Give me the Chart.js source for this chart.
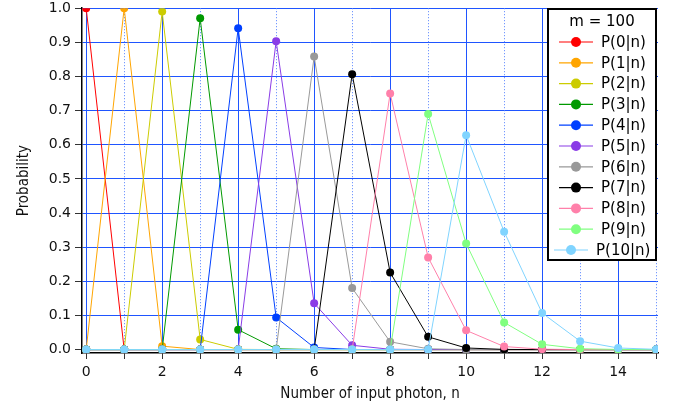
<!DOCTYPE html>
<html>
<head>
<meta charset="utf-8">
<script src="https://cdn.jsdelivr.net/npm/chart.js@4.4.1/dist/chart.umd.min.js"></script>
<style>
    html, body { margin: 0; padding: 0; background: #fff; }
</style>
</head>
<body>
<canvas id="myLineChart" width="688" height="409"></canvas>
<script>
// number of input photons n (x axis)
const photons = [0, 1, 2, 3, 4, 5, 6, 7, 8, 9, 10, 11, 12, 13, 14, 15];

// P(k|n) for m = 100, one array per k
const p0  = [1, 0, 0, 0, 0, 0, 0, 0, 0, 0, 0, 0, 0, 0, 0, 0];
const p1  = [0, 1, 0.01, 0.0001, 0, 0, 0, 0, 0, 0, 0, 0, 0, 0, 0, 0];
const p2  = [0, 0, 0.99, 0.0297, 0.0007, 0, 0, 0, 0, 0, 0, 0, 0, 0, 0, 0];
const p3  = [0, 0, 0, 0.9702, 0.0582, 0.0024, 0.0001, 0, 0, 0, 0, 0, 0, 0, 0, 0];
const p4  = [0, 0, 0, 0, 0.9411, 0.0941, 0.0061, 0.0003, 0, 0, 0, 0, 0, 0, 0, 0];
const p5  = [0, 0, 0, 0, 0, 0.9035, 0.1355, 0.0126, 0.0009, 0.0001, 0, 0, 0, 0, 0, 0];
const p6  = [0, 0, 0, 0, 0, 0, 0.8583, 0.1802, 0.0228, 0.0023, 0.0002, 0, 0, 0, 0, 0];
const p7  = [0, 0, 0, 0, 0, 0, 0, 0.8068, 0.2259, 0.0373, 0.0047, 0.0005, 0, 0, 0, 0];
const p8  = [0, 0, 0, 0, 0, 0, 0, 0, 0.7503, 0.2701, 0.0563, 0.0089, 0.0012, 0.0001, 0, 0];
const p9  = [0, 0, 0, 0, 0, 0, 0, 0, 0, 0.6903, 0.3106, 0.0797, 0.0154, 0.0025, 0.0004, 0];
const p10 = [0, 0, 0, 0, 0, 0, 0, 0, 0, 0, 0.6282, 0.3455, 0.1071, 0.0247, 0.0047, 0.0008];

const seriesValues = [p0, p1, p2, p3, p4, p5, p6, p7, p8, p9, p10];
const seriesLabels = ['P(0|n)', 'P(1|n)', 'P(2|n)', 'P(3|n)', 'P(4|n)', 'P(5|n)',
    'P(6|n)', 'P(7|n)', 'P(8|n)', 'P(9|n)', 'P(10|n)'];
const seriesColors = ['#ff0000', '#ffa500', '#cccc00', '#009900', '#0040ff', '#8a3ce6',
    '#999999', '#000000', '#ff80aa', '#80ff80', '#80d4ff'];

const xTicks = [0, 1, 2, 3, 4, 5, 6, 7, 8, 9, 10, 11, 12, 13, 14, 15];
const yTicks = [0, 0.1, 0.2, 0.3, 0.4, 0.5, 0.6, 0.7, 0.8, 0.9, 1.0];
const legendTitle = 'm = 100';

const xTickFont = { family: '"DejaVu Sans", sans-serif', size: 14, lineHeight: 1.0 };
const yTickFont = { family: '"DejaVu Sans", sans-serif', size: 14, lineHeight: 0.6 };
const titleFont = { family: '"Liberation Sans Narrow", "DejaVu Sans Condensed", "Liberation Sans", sans-serif', size: 15 };
const gridBlue = '#1f55ff';

// dotted grid lines on the odd n values
const minorGrid = {
    id: 'minorGrid',
    beforeDatasetsDraw(chart) {
        const { ctx, chartArea, scales } = chart;
        ctx.save();
        ctx.strokeStyle = '#5582ff';
        ctx.lineWidth = 1;
        ctx.setLineDash([1, 2]);
        xTicks.filter(v => v % 2 === 1).forEach(v => {
            const x = Math.round(scales.x.getPixelForValue(v)) + 0.5;
            ctx.beginPath();
            ctx.moveTo(x, chartArea.top);
            ctx.lineTo(x, chartArea.bottom);
            ctx.stroke();
        });
        ctx.restore();
    }
};

// boxed legend inside the plot, like the original
const boxLegend = {
    id: 'boxLegend',
    afterDraw(chart) {
        const ctx = chart.ctx;
        const left = 548, top = 9, w = 108, h = 251;
        ctx.save();
        ctx.fillStyle = '#fff';
        ctx.fillRect(left, top, w, h);
        ctx.strokeStyle = '#000';
        ctx.lineWidth = 2;
        ctx.strokeRect(left, top, w, h);
        ctx.font = '15px "DejaVu Sans", sans-serif';
        ctx.fillStyle = '#000';
        ctx.textBaseline = 'middle';
        ctx.textAlign = 'center';
        ctx.fillText(legendTitle, left + w / 2, top + 13);
        ctx.textAlign = 'left';
        chart.data.datasets.forEach((ds, i) => {
            const y = top + 33 + i * 20.8;
            const wide = ds.label.length > 6;
            const x0 = wide ? left + 6 : left + 11;
            ctx.strokeStyle = ds.borderColor;
            ctx.lineWidth = 1.2;
            ctx.beginPath();
            ctx.moveTo(x0, y);
            ctx.lineTo(x0 + 34, y);
            ctx.stroke();
            ctx.fillStyle = ds.backgroundColor;
            ctx.beginPath();
            ctx.arc(x0 + 17, y, 5, 0, Math.PI * 2);
            ctx.fill();
            ctx.fillStyle = '#000';
            ctx.fillText(ds.label, x0 + 42, y + 1);
        });
        ctx.restore();
    }
};

const data = {
    labels: photons,
    datasets: seriesValues.map((vals, i) => ({
        label: seriesLabels[i],
        data: photons.map((n, j) => ({ x: n, y: vals[j] })),
        borderColor: seriesColors[i],
        backgroundColor: seriesColors[i],
        borderWidth: 1,
        pointRadius: 4,
        pointBorderWidth: 0,
        tension: 0,
        order: -i
    }))
};

const config = {
    type: 'line',
    data: data,
    options: {
        responsive: false,
        devicePixelRatio: 1,
        animation: false,
        layout: { padding: { top: 0, right: 30, left: 0, bottom: 0 } },
        plugins: {
            legend: { display: false },
            tooltip: { enabled: false }
        },
        scales: {
            x: {
                type: 'linear',
                min: -0.11,
                max: 15.05,
                afterBuildTicks: scale => { scale.ticks = xTicks.map(v => ({ value: v })); },
                afterFit: scale => { scale.height = 56; },
                ticks: {
                    color: '#111',
                    font: xTickFont,
                    padding: 6,
                    maxRotation: 0,
                    autoSkip: false,
                    callback: v => (v % 2 === 0 ? String(v) : '')
                },
                grid: {
                    color: c => (c.tick && c.tick.value % 2 === 0 ? gridBlue : 'rgba(0,0,0,0)'),
                    lineWidth: 1,
                    tickColor: '#333',
                    tickLength: 6,
                    drawTicks: true
                },
                border: { color: '#000', width: 1.5 },
                title: {
                    display: true,
                    text: 'Number of input photon, n',
                    color: '#111',
                    font: titleFont,
                    padding: { top: 2, bottom: 6 }
                }
            },
            y: {
                min: -0.01,
                max: 1.0,
                afterBuildTicks: scale => { scale.ticks = yTicks.map(v => ({ value: v })); },
                afterFit: scale => { scale.width = 82; },
                ticks: {
                    color: '#111',
                    font: yTickFont,
                    padding: 4,
                    callback: v => v.toFixed(1)
                },
                grid: {
                    color: gridBlue,
                    lineWidth: 1,
                    tickColor: '#333',
                    tickLength: 7
                },
                border: { color: '#000', width: 1.5 },
                title: {
                    display: true,
                    text: 'Probability',
                    color: '#111',
                    font: titleFont,
                    padding: { top: 15, bottom: 0 }
                }
            }
        }
    },
    plugins: [minorGrid, boxLegend]
};

new Chart(document.querySelector('#myLineChart'), config);
</script>
</body>
</html>
